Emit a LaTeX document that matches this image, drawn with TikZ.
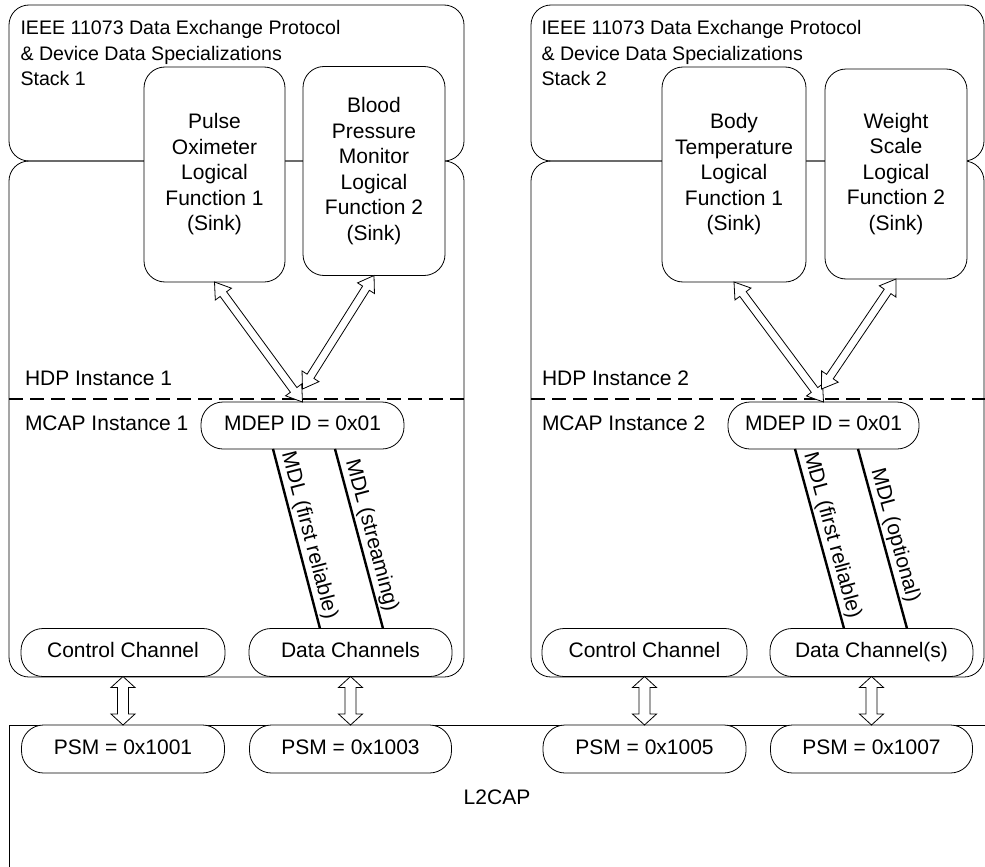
\documentclass[tikz,border=0pt]{standalone}
\usepackage{fontspec}
\setmainfont{Liberation Sans}
\usetikzlibrary{calc}

\tikzset{
  every node/.style={inner sep=0pt, outer sep=0pt},
  lbl/.style={font=\fontsize{21}{25.5}\selectfont},
  titlelbl/.style={font=\fontsize{19.6}{25.5}\selectfont, align=left, anchor=north west},
  frame/.style={draw, line width=0.8pt, rounded corners=20pt, rectangle},
  func/.style={frame, fill=white, align=center, lbl, rounded corners=21pt},
  pill/.style={draw, line width=0.8pt, fill=white, rounded corners=22pt,
               minimum height=48pt, lbl, text height=15pt, text depth=4.5pt},
  mdl/.style={line width=2.4pt},
  mdltext/.style={lbl, midway, sloped, above, inner sep=3pt},
  divider/.style={line width=1.6pt, dash pattern=on 14pt off 7pt},
  arrowline/.style={draw, line width=0.8pt, fill=white, line join=miter},
}

% hollow double-headed arrow: from, to, head length, head half-width, shaft half-width
\newcommand\hollowarrow[5]{%
  \path[arrowline] let \p1=($(#2)-(#1)$), \n1={atan2(\y1,\x1)},
      \n2={\n1+90}, \n3={\n1-90}, \n4={\n1+180} in
    (#1) -- ($(#1)+(\n1:#3)+(\n2:#4)$) -- ($(#1)+(\n1:#3)+(\n2:#5)$)
    -- ($(#2)+(\n4:#3)+(\n2:#5)$) -- ($(#2)+(\n4:#3)+(\n2:#4)$)
    -- (#2)
    -- ($(#2)+(\n4:#3)+(\n3:#4)$) -- ($(#2)+(\n4:#3)+(\n3:#5)$)
    -- ($(#1)+(\n1:#3)+(\n3:#5)$) -- ($(#1)+(\n1:#3)+(\n3:#4)$) -- cycle;}

\begin{document}
\begin{tikzpicture}[x=1pt,y=-1pt]
\clip (0,0) rectangle (985,867);

% ---- stack frames ----
\node[frame, minimum width=455, minimum height=156] (up1) at (236.5,83) {};
\node[frame, minimum width=455, minimum height=516] (low1) at (236.5,419) {};
\node[frame, minimum width=453, minimum height=156] (up2) at (757.5,83) {};
\node[frame, minimum width=453, minimum height=516] (low2) at (757.5,419) {};

\node[titlelbl] (title1) at (20.5,20.5)
  {IEEE 11073 Data Exchange Protocol\\\& Device Data Specializations\\Stack 1};
\node[titlelbl] (title2) at (541.5,20.5)
  {IEEE 11073 Data Exchange Protocol\\\& Device Data Specializations\\Stack 2};

% ---- logical functions ----
\node[func, minimum width=141, minimum height=215] (po) at (214.5,174.5)
  {Pulse\\Oximeter\\Logical\\Function 1\\(Sink)};
\node[func, minimum width=142, minimum height=209] (bp) at (374,171)
  {Blood\\Pressure\\Monitor\\Logical\\Function 2\\(Sink)};
\node[func, minimum width=144, minimum height=215] (bt) at (734,174.5)
  {Body\\Temperature\\Logical\\Function 1\\(Sink)};
\node[func, minimum width=142, minimum height=210] (ws) at (896,174)
  {Weight\\Scale\\Logical\\Function 2\\(Sink)};

% ---- HDP / MCAP split ----
\draw[divider] (9,399) -- (464,399);
\draw[divider] (531,399) -- (985,399);
\node[lbl, anchor=base west] (hdp1) at (25,385) {HDP Instance 1};
\node[lbl, anchor=base west] (mcap1) at (25,430) {MCAP Instance 1};
\node[lbl, anchor=base west] (hdp2) at (542,385) {HDP Instance 2};
\node[lbl, anchor=base west] (mcap2) at (542,430) {MCAP Instance 2};

% ---- MCAP endpoints and channels ----
\node[pill, minimum width=203, minimum height=47] (mdep1) at (302.5,425.5) {MDEP ID = 0x01};
\node[pill, minimum width=191, minimum height=47] (mdep2) at (823.5,425.5) {MDEP ID = 0x01};

\node[pill, minimum width=204] (cc1) at (123,652.5) {Control Channel};
\node[pill, minimum width=203] (dc1) at (350.5,652.5) {Data Channels};
\node[pill, minimum width=205] (cc2) at (644.5,652.5) {Control Channel};
\node[pill, minimum width=203] (dc2) at (871.5,652.5) {Data Channel(s)};

% ---- MDLs ----
\draw[mdl] ($(mdep1.south west)+(72,0)$) -- ($(dc1.north west)+(71,0)$)
  node[mdltext] {MDL (first reliable)};
\draw[mdl] ($(mdep1.south west)+(134,0)$) -- ($(dc1.north west)+(134,0)$)
  node[mdltext] {MDL (streaming)};
\draw[mdl] ($(mdep2.south west)+(67,0)$) -- ($(dc2.north west)+(74,0)$)
  node[mdltext] {MDL (first reliable)};
\draw[mdl] ($(mdep2.south west)+(130,0)$) -- ($(dc2.north west)+(137,0)$)
  node[mdltext] {MDL (optional)};

% ---- L2CAP ----
\node[draw, line width=0.8pt, minimum width=1000, minimum height=200, anchor=north west]
  (l2cap) at (9,725) {};
\node[lbl] (l2caplbl) at (497,797) {L2CAP};
\node[pill, minimum width=203] (psm1) at (123,749) {PSM = 0x1001};
\node[pill, minimum width=202] (psm2) at (350.5,749) {PSM = 0x1003};
\node[pill, minimum width=203] (psm3) at (644.5,749) {PSM = 0x1005};
\node[pill, minimum width=202] (psm4) at (871.5,749) {PSM = 0x1007};

% ---- associations ----
\coordinate (bpend) at ($(mdep1.north)+(0,-13)$);
\coordinate (wsend) at ($(mdep2.north)+(-2,-13)$);
\hollowarrow{po.south}{mdep1.north}{15pt}{10pt}{4pt}
\hollowarrow{bp.south}{bpend}{15pt}{10pt}{4pt}
\hollowarrow{bt.south}{mdep2.north}{15pt}{10pt}{4pt}
\hollowarrow{ws.south}{wsend}{15pt}{10pt}{4pt}

\hollowarrow{cc1.south}{psm1.north}{11pt}{12pt}{5.5pt}
\hollowarrow{dc1.south}{psm2.north}{11pt}{12pt}{5.5pt}
\hollowarrow{cc2.south}{psm3.north}{11pt}{12pt}{5.5pt}
\hollowarrow{dc2.south}{psm4.north}{11pt}{12pt}{5.5pt}
\end{tikzpicture}
\end{document}
